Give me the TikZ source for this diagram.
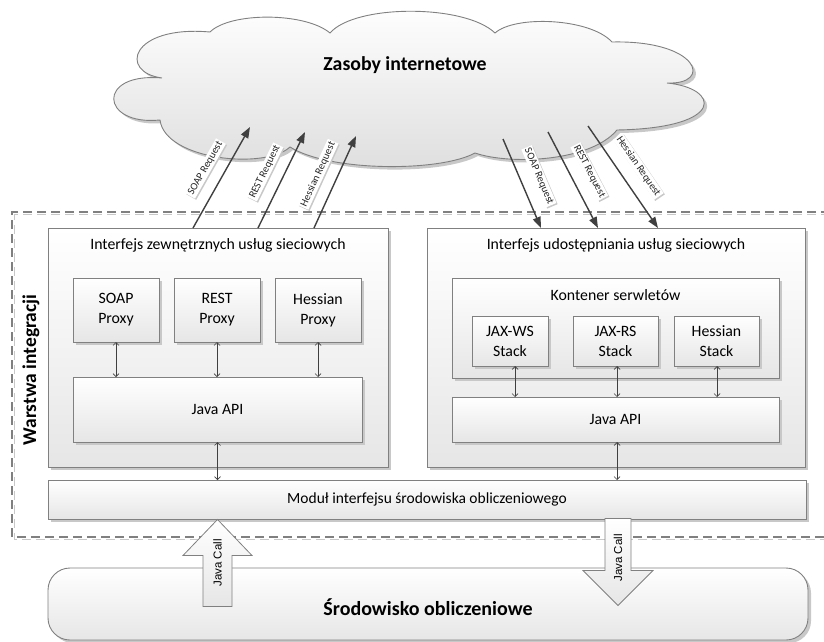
\documentclass[tikz,border=0pt]{standalone}
\usepackage{fontspec}
\setmainfont{Carlito}
\newfontfamily\arialfont{Liberation Sans}
\usetikzlibrary{arrows.meta,shadows,calc}

\definecolor{edge}{RGB}{128,128,128}
\definecolor{arrowdark}{RGB}{64,64,64}
\definecolor{shadowgray}{RGB}{200,200,200}
\definecolor{shadebottom}{RGB}{230,230,230}
\definecolor{cloudbottom}{RGB}{222,222,222}

\tikzset{
  box/.style={draw=edge, line width=0.9pt, top color=white, bottom color=shadebottom,
    drop shadow={shadow xshift=3pt, shadow yshift=-3pt, fill=shadowgray, opacity=1},
    inner sep=0pt, outer sep=0pt, align=center, font=\fontsize{15.8}{20}\selectfont},
  boxtitle/.style={inner sep=0pt, font=\fontsize{15.8}{19}\selectfont},
  bi/.style={{Straight Barb[length=3pt,width=6pt]}-{Straight Barb[length=3pt,width=6pt]},
    line width=0.7pt, draw=arrowdark},
  req/.style={-{Triangle[length=11pt,width=8pt]}, line width=1.4pt, draw=arrowdark},
  reqlabel/.style={sloped, above=12pt, fill=white, inner sep=1.4pt, text=black!85,
    font=\fontsize{10.5}{11}\selectfont,
    drop shadow={shadow xshift=1.2pt, shadow yshift=-1.2pt, fill=shadowgray, opacity=1}},
  fatarrow/.style={draw=edge, line width=0.8pt, top color=white, bottom color=shadebottom},
  calllabel/.style={rotate=90, inner sep=0pt, font=\arialfont\fontsize{11.5}{12}\selectfont},
  layerline/.style={line width=1.3pt, dash pattern=on 9pt off 5pt},
}

\begin{document}
\begin{tikzpicture}[x=1pt,y=-1pt]
\useasboundingbox (0,0) rectangle (824,642);

% integration layer frame (open on the right)
\draw[layerline, shadowgray] (830,214.5) -- (14.5,214.5) -- (14.5,539.5) -- (830,539.5);
\draw[layerline, edge] (830,212) -- (12,212) -- (12,537) -- (830,537);
\node[rotate=90, inner sep=0pt, font=\bfseries\fontsize{19.5}{22}\selectfont] (layer) at (31,370) {Warstwa integracji};

% internet cloud
\def\cloudoutline{(160,120) .. controls (100,126) and (96,72) .. (162,78)
  .. controls (118,72) and (131,25) .. (210,32)
  .. controls (230,12) and (305,12) .. (330,33)
  .. controls (355,4) and (465,4) .. (495,33)
  .. controls (515,15) and (590,18) .. (612,42)
  .. controls (700,40) and (713,85) .. (667,83)
  .. controls (720,88) and (727,128) .. (617,130)
  .. controls (590,162) and (510,165) .. (475,153)
  .. controls (440,172) and (330,172) .. (290,147)
  .. controls (265,170) and (165,160) .. (160,120) -- cycle}
\fill[shadowgray, shift={(3,3)}] \cloudoutline;
\draw[draw=edge, line width=0.9pt, top color=white, bottom color=cloudbottom] \cloudoutline;
\node[inner sep=0pt, font=\bfseries\fontsize{19.8}{22}\selectfont] (net) at (405,65) {Zasoby internetowe};
\coordinate (inL1) at (250,127);
\coordinate (inL2) at (305,132);
\coordinate (inL3) at (356,136);
\coordinate (outR1) at (503,139);
\coordinate (outR2) at (548,132);
\coordinate (outR3) at (588,126);

% left: external service interface
\node[box, minimum width=340pt, minimum height=239pt] (leftbox) at (218,347.5) {};
\node[boxtitle] (lefttitle) at (218,245) {Interfejs zewnętrznych usług sieciowych};
\node[box, minimum width=86pt, minimum height=64pt] (soapP) at (116,310) {SOAP\\Proxy};
\node[box, minimum width=86pt, minimum height=64pt] (restP) at (217,310) {REST\\Proxy};
\node[box, minimum width=86pt, minimum height=64pt] (hessP) at (318,310) {Hessian\\Proxy};
\node[box, minimum width=289pt, minimum height=65pt] (japiL) at (217.5,409.5) {Java API};

% right: service publishing interface
\node[box, minimum width=378pt, minimum height=239pt] (rightbox) at (616,347.5) {};
\node[boxtitle] (righttitle) at (616,245) {Interfejs udostępniania usług sieciowych};
\node[box, minimum width=327pt, minimum height=100pt] (kont) at (615.5,328) {};
\node[boxtitle] (konttitle) at (615.5,295) {Kontener serwletów};
\node[box, minimum width=76pt, minimum height=50pt] (jaxws) at (510,341) {JAX-WS\\Stack};
\node[box, minimum width=85pt, minimum height=50pt] (jaxrs) at (615.5,341) {JAX-RS\\Stack};
\node[box, minimum width=85pt, minimum height=50pt] (hessS) at (716.5,341) {Hessian\\Stack};
\node[box, minimum width=327pt, minimum height=45pt] (japiR) at (615.5,419.5) {Java API};

% computing environment interface module
\node[box, minimum width=758pt, minimum height=39pt, font=\fontsize{15.5}{17}\selectfont] (modul) at (427,499.5) {Moduł interfejsu środowiska obliczeniowego};

% computing environment
\node[box, rounded corners=22pt, minimum width=760pt, minimum height=72pt] (srod) at (428,604) {};
\node[inner sep=0pt, font=\bfseries\fontsize{20}{22}\selectfont] (srodtitle) at (428,607) {Środowisko obliczeniowe};

% internal connections
\draw[bi] (soapP.south) -- (soapP.south |- japiL.north);
\draw[bi] (restP.south) -- (restP.south |- japiL.north);
\draw[bi] (hessP.south) -- (hessP.south |- japiL.north);
\draw[bi] ([xshift=5pt]jaxws.south) -- ([xshift=5pt]jaxws.south |- japiR.north);
\draw[bi] ([xshift=1.5pt]jaxrs.south) -- ([xshift=1.5pt]jaxrs.south |- japiR.north);
\draw[bi] ([xshift=0.5pt]hessS.south) -- ([xshift=0.5pt]hessS.south |- japiR.north);
\draw[bi] (japiL.south) -- (japiL.south |- modul.north);
\draw[bi] ([xshift=1.5pt]japiR.south) -- ([xshift=1.5pt]japiR.south |- modul.north);

% outgoing requests
\draw[req] ([xshift=-25pt]leftbox.north) -- (inL1) node[reqlabel, pos=0.5] {SOAP Request};
\draw[req] ([xshift=40pt]leftbox.north) -- (inL2) node[reqlabel, pos=0.5] {REST Request};
\draw[req] ([xshift=96pt]leftbox.north) -- (inL3) node[reqlabel, pos=0.5] {Hessian Request};

% incoming requests
\draw[req] (outR1) -- ([xshift=-75pt]rightbox.north) node[reqlabel, pos=0.5] {SOAP Request};
\draw[req] (outR2) -- ([xshift=-18pt]rightbox.north) node[reqlabel, pos=0.5] {REST Request};
\draw[req] (outR3) -- ([xshift=42pt]rightbox.north) node[reqlabel, pos=0.5] {Hessian Request};

% Java calls between the layer and the environment
\coordinate (callup) at (modul.south -| japiL.south);
\draw[fatarrow] ([yshift=-0.5pt]callup) -- ++(34.5,36) -- ++(-20,0) -- ++(0,51) -- ++(-29,0)
  -- ++(0,-51) -- ++(-20,0) -- cycle;
\node[calllabel] (calluptext) at ($(callup)+(0,44)$) {Java Call};
\coordinate (calldown) at ([xshift=2.5pt]modul.south -| japiR.south);
\draw[fatarrow] ([yshift=0.5pt]calldown) ++(-13,0) -- ++(0,52) -- ++(-22,0) -- ++(35,35) -- ++(35,-35)
  -- ++(-22,0) -- ++(0,-52) -- cycle;
\node[calllabel] (calldowntext) at ($(calldown)+(0,39)$) {Java Call};
\end{tikzpicture}
\end{document}
